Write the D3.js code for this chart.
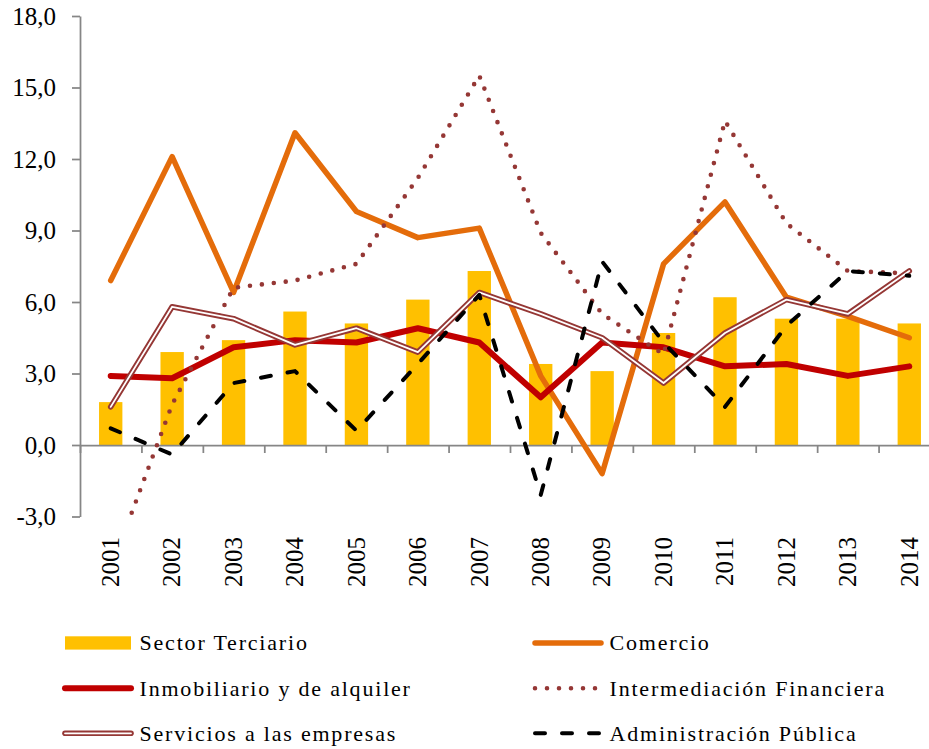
<!DOCTYPE html>
<html>
<head>
<meta charset="utf-8">
<script src="https://cdn.jsdelivr.net/npm/d3@7"></script>
<style>
  body { margin: 0; background: #fff; }
</style>
</head>
<body>
<div id="chart"></div>
<script>
// data (% growth)
var years = ["2001","2002","2003","2004","2005","2006","2007","2008","2009","2010","2011","2012","2013","2014"];
var yTicks = [-3, 0, 3, 6, 9, 12, 15, 18];

var terciario      = [1.8, 3.9, 4.4, 5.6, 5.1, 6.1, 7.3, 3.4, 3.1, 4.7, 6.2, 5.3, 5.3, 5.1];
var comercio       = [6.9, 12.1, 6.4, 13.1, 9.8, 8.7, 9.1, 2.9, -1.2, 7.6, 10.2, 6.2, 5.4, 4.5];
var inmobiliario   = [2.9, 2.8, 4.1, 4.4, 4.3, 4.9, 4.3, 2.0, 4.3, 4.1, 3.3, 3.4, 2.9, 3.3];
var financiera     = [-5.2, 1.7, 6.6, 6.9, 7.6, 11.2, 15.5, 8.9, 5.5, 3.8, 13.6, 9.3, 7.3, 7.2];
var servicios      = [1.6, 5.8, 5.3, 4.2, 4.9, 3.9, 6.4, 5.5, 4.5, 2.6, 4.7, 6.1, 5.5, 7.3];
var administracion = [0.7, -0.4, 2.6, 3.1, 0.6, 3.4, 6.3, -2.1, 7.7, 4.3, 1.6, 5.0, 7.3, 7.1];

var names = ["Sector Terciario", "Comercio", "Inmobiliario y de alquiler",
             "Intermediación Financiera", "Servicios a las empresas", "Administración Pública"];

var W = 929, H = 749;
var serif = "'Liberation Serif'";
var svg = d3.select("#chart").append("svg")
    .attr("width", W)
    .attr("height", H);

var pLeft = 80, pRight = 940, pTop = 16, pBottom = 516.5;

var x = d3.scaleBand().domain(years).range([pLeft, pRight]);
var xi = d3.scaleLinear().domain([0, years.length]).range([pLeft, pRight]);
var y = d3.scaleLinear().domain([-3, 18]).range([pBottom, pTop]);
var bw = x.bandwidth();
var cx = function(i) { return x(years[i]) + bw / 2; };

var fmt = function(v) { return v.toFixed(1).replace(".", ","); };

svg.append("clipPath").attr("id", "plot")
  .append("rect")
    .attr("x", pLeft).attr("y", 0)
    .attr("width", pRight - pLeft).attr("height", pBottom + 1);

// bars
svg.append("g").selectAll("rect")
  .data(terciario)
  .enter().append("rect")
    .attr("x", function(d, i) { return cx(i) - bw * 0.19; })
    .attr("width", bw * 0.38)
    .attr("y", function(d) { return y(Math.max(0, d)); })
    .attr("height", function(d) { return Math.abs(y(d) - y(0)); })
    .attr("fill", "#FFC000");

// axes
var axisColor = "#868686";
var gy = svg.append("g")
    .attr("transform", "translate(" + pLeft + ",0)")
    .call(d3.axisLeft(y).tickValues(yTicks).tickSize(8).tickSizeOuter(0).tickFormat(fmt));
gy.select(".domain").attr("stroke", axisColor).attr("stroke-width", 1.75);
gy.selectAll(".tick line").attr("stroke", axisColor).attr("stroke-width", 1.75);
gy.selectAll(".tick text")
    .attr("x", -24)
    .attr("dy", "0.33em")
    .attr("fill", "#000")
    .style("font-family", serif)
    .style("font-size", "25px");

var gx = svg.append("g")
    .attr("transform", "translate(0," + y(0) + ")")
    .call(d3.axisBottom(xi).tickValues(d3.range(0, years.length + 1)).tickSize(8).tickSizeOuter(0).tickFormat(""));
gx.select(".domain").attr("stroke", axisColor).attr("stroke-width", 1.75);
gx.selectAll(".tick line").attr("stroke", axisColor).attr("stroke-width", 1.75);

svg.append("g").selectAll("text")
  .data(years)
  .enter().append("text")
    .attr("transform", function(d, i) { return "translate(" + cx(i) + ",537) rotate(-90)"; })
    .attr("text-anchor", "end")
    .attr("dy", "0.33em")
    .style("font-family", serif)
    .style("font-size", "25px")
    .text(function(d) { return d; });

// lines
var line = d3.line()
    .x(function(d, i) { return cx(i); })
    .y(function(d) { return y(d); });

var lines = svg.append("g").attr("clip-path", "url(#plot)");

function drawLine(g, values, stroke, width, dash) {
  g.append("path")
    .datum(values)
    .attr("d", line)
    .attr("fill", "none")
    .attr("stroke", stroke)
    .attr("stroke-width", width)
    .attr("stroke-linejoin", "round")
    .attr("stroke-linecap", "round")
    .attr("stroke-dasharray", dash || null);
}

drawLine(lines, comercio, "#E46C0A", 5.5);
drawLine(lines, inmobiliario, "#C00000", 6);
drawLine(lines, financiera, "#953735", 4.6, "0 12");
drawLine(lines, servicios, "#953735", 5.6);
drawLine(lines, servicios, "#ffffff", 1.8);
drawLine(lines, administracion, "#000000", 4, "10 17");

// legend
var legX = [65, 535], legY = [643, 688.3, 733.3];
var leg = svg.append("g");
names.forEach(function(name, k) {
  var lx = legX[k % 2], ly = legY[Math.floor(k / 2)];
  var path = d3.line()([[lx, ly], [lx + 66, ly]]);
  var add = function(stroke, width, dash) {
    leg.append("path").attr("d", path)
      .attr("fill", "none").attr("stroke", stroke).attr("stroke-width", width)
      .attr("stroke-linecap", "round")
      .attr("stroke-dasharray", dash || null);
  };
  if (k === 0) {
    leg.append("rect").attr("x", lx).attr("y", ly - 6.7).attr("width", 66).attr("height", 13.3).attr("fill", "#FFC000");
  } else if (k === 1) add("#E46C0A", 5.5);
  else if (k === 2) add("#C00000", 6);
  else if (k === 3) add("#953735", 4.6, "0 12");
  else if (k === 4) { add("#953735", 5.6); add("#ffffff", 1.8); }
  else add("#000000", 4, "10 17");
  leg.append("text")
    .attr("x", lx + 74.5)
    .attr("y", ly)
    .attr("dy", "0.34em")
    .style("font-family", serif)
    .style("font-size", "22px")
    .style("letter-spacing", "1.8px")
    .text(name);
});
</script>
</body>
</html>
